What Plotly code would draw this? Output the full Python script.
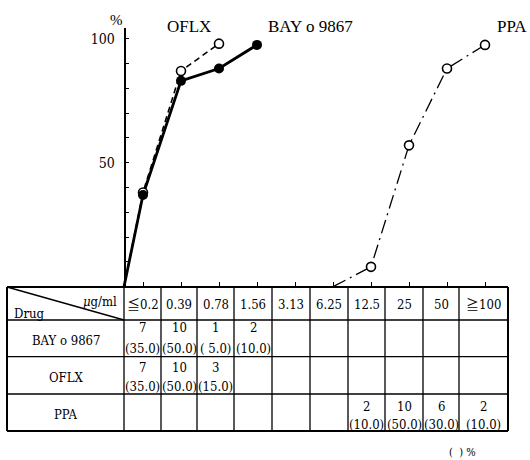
import plotly.graph_objects as go

# ---------------- data ----------------
conc_labels = ["≦0.2", "0.39", "0.78", "1.56", "3.13", "6.25", "12.5", "25", "50", "≧100"]
drugs = ["BAY o 9867", "OFLX", "PPA"]

bay_counts = [7, 10, 1, 2, None, None, None, None, None, None]
oflx_counts = [7, 10, 3, None, None, None, None, None, None, None]
ppa_counts = [None, None, None, None, None, None, 2, 10, 6, 2]

bay_pct = [35.0, 50.0, 5.0, 10.0, None, None, None, None, None, None]
oflx_pct = [35.0, 50.0, 15.0, None, None, None, None, None, None, None]
ppa_pct = [None, None, None, None, None, None, 10.0, 50.0, 30.0, 10.0]

# cumulative curves ("0" = axis origin)
bay_curve_x = ["0", "≦0.2", "0.39", "0.78", "1.56"]
bay_curve_y = [0, 37, 83, 88, 97.5]
oflx_curve_x = ["0", "≦0.2", "0.39", "0.78"]
oflx_curve_y = [0, 38, 87, 98]
ppa_curve_x = ["6.25", "12.5", "25", "50", "≧100"]
ppa_curve_y = [0, 8, 57, 88, 97.5]

# ---------------- layout constants ----------------
W, H = 530, 460
SERIF = "Liberation Serif, Noto Sans CJK JP, serif"
COND = "DejaVu Serif Condensed, Liberation Serif, Noto Sans CJK JP, serif"


def PX(x):
    return x / W


def PY(y):
    return 1 - y / H


def xpos(lab):
    return -0.5 if lab == "0" else conc_labels.index(lab)


fig = go.Figure()

fig.add_trace(go.Scatter(
    x=[xpos(v) for v in oflx_curve_x], y=oflx_curve_y, mode="lines",
    line=dict(color="black", width=1.6, dash="6px,4px"), hoverinfo="skip"))
fig.add_trace(go.Scatter(
    x=[xpos(v) for v in bay_curve_x], y=bay_curve_y, mode="lines",
    line=dict(color="black", width=2.8), hoverinfo="skip"))
fig.add_trace(go.Scatter(
    x=[xpos(v) for v in ppa_curve_x], y=ppa_curve_y, mode="lines",
    line=dict(color="black", width=1.3, dash="14px,5px,2px,5px"), hoverinfo="skip"))
# markers
fig.add_trace(go.Scatter(
    x=[xpos(v) for v in oflx_curve_x[1:]], y=oflx_curve_y[1:], mode="markers",
    marker=dict(size=9, color="white", line=dict(color="black", width=1.6)), hoverinfo="skip"))
fig.add_trace(go.Scatter(
    x=[xpos(v) for v in bay_curve_x[1:]], y=bay_curve_y[1:], mode="markers",
    marker=dict(size=10, color="black"), hoverinfo="skip"))
fig.add_trace(go.Scatter(
    x=[xpos(v) for v in ppa_curve_x[1:]], y=ppa_curve_y[1:], mode="markers",
    marker=dict(size=9, color="white", line=dict(color="black", width=1.6)), hoverinfo="skip"))

# axis geometry (pixels)
tick0_px, step_px = 143.0, 38.0
yaxis_px = 124.5
y0_px, ytop_px, px_per_unit = 286.7, 28.0, 2.48

fig.update_layout(
    width=W, height=H, margin=dict(l=0, r=0, t=0, b=0),
    paper_bgcolor="white", plot_bgcolor="rgba(0,0,0,0)", showlegend=False,
    xaxis=dict(domain=[0, 1], range=[-tick0_px / step_px, (W - tick0_px) / step_px],
               tickvals=list(range(len(conc_labels))), showticklabels=False,
               ticks="inside", ticklen=5, tickwidth=1.3, tickcolor="black",
               showgrid=False, zeroline=False, showline=False, fixedrange=True),
    yaxis=dict(domain=[PY(y0_px), PY(ytop_px)], range=[0, (y0_px - ytop_px) / px_per_unit],
               anchor="free", position=PX(yaxis_px),
               tickvals=list(range(0, 101, 10)),
               ticktext=["50" if v == 50 else ("100" if v == 100 else "") for v in range(0, 101, 10)],
               ticks="inside", ticklen=4, tickwidth=1.3, tickcolor="black",
               tickfont=dict(family=COND, size=14, color="black"), ticklabelstandoff=6,
               showline=True, linecolor="black", linewidth=1.6,
               showgrid=False, zeroline=False, fixedrange=True),
)

annotations = []
shapes = []


def text(x, y, s, size=13, xanchor="center", family=COND):
    annotations.append(dict(x=PX(x), y=PY(y), xref="paper", yref="paper", text=s,
                            showarrow=False, xanchor=xanchor, yanchor="middle",
                            font=dict(family=family, size=size, color="black")))


# chart labels
text(116, 20, "%", size=15, family=SERIF)
text(189, 26, "OFLX", size=17, family=SERIF)
text(310, 26, "BAY o 9867", size=17, family=SERIF)
text(512, 27, "PPA", size=17, family=SERIF)

# table geometry
col_edges = [7, 124, 161, 197, 234, 272, 310, 348, 385, 423, 459, 508]
row_edges = [287, 320, 356.7, 394, 431]


def line(x0, y0, x1, y1, w=1.3):
    shapes.append(dict(type="line", xref="paper", yref="paper",
                       x0=PX(x0), y0=PY(y0), x1=PX(x1), y1=PY(y1),
                       line=dict(color="black", width=w)))


for i, ye in enumerate(row_edges):
    line(col_edges[0], ye, col_edges[-1], ye, 2.0 if i in (0, len(row_edges) - 1) else 1.3)
for i, xe in enumerate(col_edges):
    line(xe, row_edges[0], xe, row_edges[-1], 2.0 if i in (0, len(col_edges) - 1) else 1.3)
line(col_edges[0], row_edges[0], col_edges[1], row_edges[1], 1.3)

# header
text(100, 301.5, "<i>μ</i>g/ml", size=13)
text(29, 313, "Drug", size=13)
for j, lab in enumerate(conc_labels):
    cx = (col_edges[j + 1] + col_edges[j + 2]) / 2
    text(cx, 304, lab, size=13)

# rows
row_counts = [bay_counts, oflx_counts, ppa_counts]
row_pcts = [bay_pct, oflx_pct, ppa_pct]
count_offsets = [7.5, 10.5, 12]
pct_offsets = [28.5, 29.5, 30]
for r, drug in enumerate(drugs):
    top, bot = row_edges[r + 1], row_edges[r + 2]
    text((col_edges[0] + col_edges[1]) / 2, (top + bot) / 2 + 2, drug, size=13)
    for j in range(len(conc_labels)):
        c = row_counts[r][j]
        if c is None:
            continue
        cx = (col_edges[j + 1] + col_edges[j + 2]) / 2
        text(cx, top + count_offsets[r], str(c), size=13)
        text(cx, top + pct_offsets[r], "(%4.1f)" % row_pcts[r][j], size=13)

text(462, 452, "(\u00a0\u00a0)\u00a0%", size=11)

fig.update_layout(annotations=annotations, shapes=shapes)
fig.write_html("out.html")
